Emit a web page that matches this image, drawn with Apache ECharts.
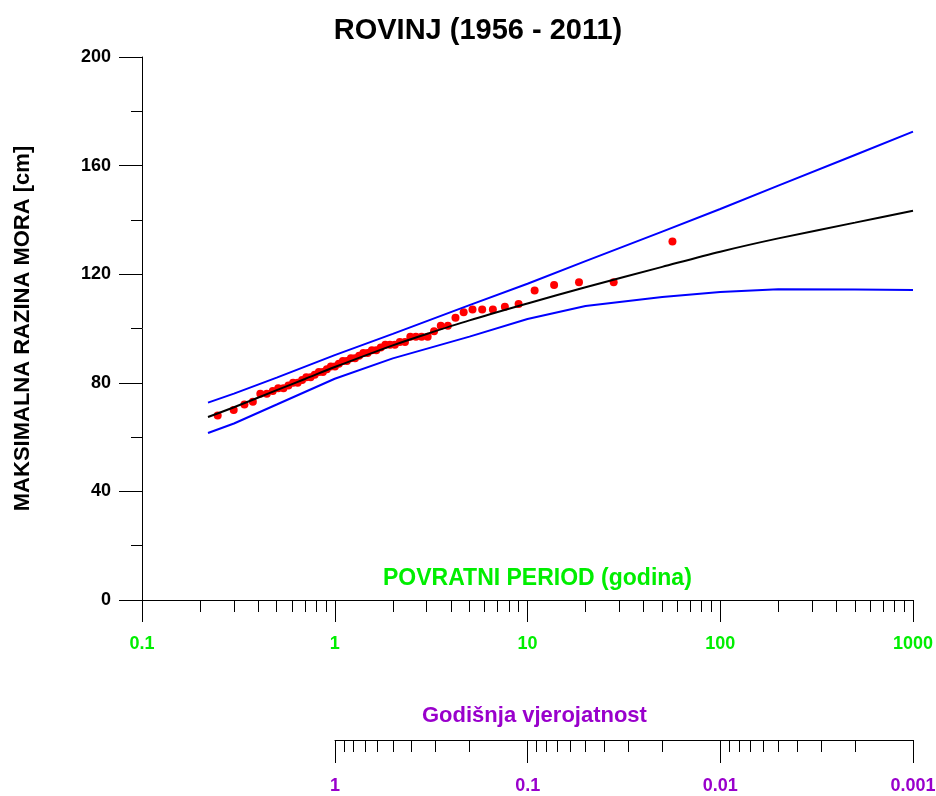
<!DOCTYPE html>
<html><head><meta charset="utf-8">
<script src="https://cdn.jsdelivr.net/npm/echarts@6/dist/echarts.min.js"></script>
<style>html,body{margin:0;padding:0;background:#fff}#c{width:936px;height:796px}</style>
</head><body><div id="c"></div>
<script>
const chartTitle = 'ROVINJ (1956 - 2011)';
const yAxisName = 'MAKSIMALNA RAZINA MORA [cm]';
const periodName = 'POVRATNI PERIOD (godina)';
const probName = 'Godišnja vjerojatnost';

const periodMajor = [0.1, 1, 10, 100, 1000];
const periodMinor = [0.2,0.3,0.4,0.5,0.6,0.7,0.8,0.9, 2,3,4,5,6,7,8,9, 20,30,40,50,60,70,80,90, 200,300,400,500,600,700,800,900];
const probMajor = [1, 0.1, 0.01, 0.001];
const probMinor = [0.9,0.8,0.7,0.6,0.5,0.4,0.3,0.2, 0.09,0.08,0.07,0.06,0.05,0.04,0.03,0.02, 0.009,0.008,0.007,0.006,0.005,0.004,0.003,0.002];

// observed annual maxima (return period, level cm)
const obsPeriod = [0.247,0.299,0.340,0.376,0.411,0.444,0.477,0.509,0.542,0.575,0.608,0.642,0.677,0.712,0.749,0.787,0.827,0.868,0.910,0.955,1.002,1.050,1.102,1.156,1.213,1.274,1.338,1.407,1.480,1.558,1.642,1.732,1.830,1.935,2.050,2.176,2.314,2.466,2.635,2.824,3.035,3.275,3.548,3.863,4.230,4.664,5.184,5.819,6.612,7.632,8.991,10.89,13.74,18.50,28.00,56.50];
const obsLevel = [68,70,72,73,76,76,77,78,78,79,80,80,81,82,82,83,84,84,85,86,86,87,88,88,89,89,90,91,91,92,92,93,94,94,94,95,95,97,97,97,97,99,101,101,104,106,107,107,107,108,109,114,116,117,117,132];

// fitted distribution and confidence limits
const fitPeriod = [0.22,0.3,0.5,0.7,1,2,3,5,10,20,50,100,200,500,1000];
const fitLevel = [67.4,71.0,77.3,81.4,85.8,93.8,98.0,103.0,109.2,115.2,122.7,128.3,133.2,139.0,143.4];
const upperPeriod = [0.22,0.3,0.5,1,2,5,10,20,50,100,200,500,1000];
const upperLevel = [72.7,76.0,81.9,90.2,98.0,108.6,116.5,124.8,135.7,144.0,152.6,163.9,172.5];
const lowerPeriod = [0.22,0.3,0.5,1,2,5,10,20,50,100,200,500,1000];
const lowerLevel = [61.5,65.0,72.0,81.5,89.0,97.0,103.5,108.3,111.6,113.4,114.5,114.4,114.2];

const pair = (xs, ys) => xs.map((x, i) => [x, ys[i]]);
const fmt = v => String(+(+v).toPrecision(6));
const FONT = "'Liberation Sans', Arial, sans-serif";
const GREEN = '#00ee00', PURPLE = '#9900cc';

const chart = echarts.init(document.getElementById('c'), null, {renderer: 'canvas'});
chart.setOption({
  animation: false,
  backgroundColor: '#fff',
  title: {
    text: chartTitle, left: 473, top: 11, textAlign: 'center',
    textStyle: {fontFamily: FONT, fontSize: 29, fontWeight: 'bold', color: '#000'}
  },
  graphic: [
    {type: 'text', left: 383, top: 567, style: {text: periodName, fill: GREEN, font: "bold 23px 'Liberation Sans', Arial, sans-serif"}},
    {type: 'text', left: 422, top: 705, style: {text: probName, fill: PURPLE, font: "bold 22px 'Liberation Sans', Arial, sans-serif"}}
  ],
  grid: [
    {left: 142, right: 23, top: 57, height: 543, outerBoundsMode: 'none', containLabel: false},
    {left: 335, right: 23, top: 739, height: 1, outerBoundsMode: 'none', containLabel: false}
  ],
  xAxis: [
    {type: 'log', logBase: 10, gridIndex: 0, min: 0.1, max: 1000, position: 'bottom',
     axisLine: {show: true, lineStyle: {color: '#000', width: 1}},
     axisTick: {show: true, length: 22, customValues: periodMajor, lineStyle: {color: '#000', width: 1}},
     axisLabel: {customValues: periodMajor, formatter: fmt, color: GREEN, fontFamily: FONT, fontWeight: 'bold', fontSize: 18, margin: 35},
     splitLine: {show: false}, minorTick: {show: false}},
    {type: 'log', logBase: 10, gridIndex: 0, min: 0.1, max: 1000, position: 'bottom', offset: 0,
     axisLine: {show: false},
     axisTick: {show: true, length: 12, customValues: periodMinor, lineStyle: {color: '#000', width: 1}},
     axisLabel: {show: false}, splitLine: {show: false}},
    {type: 'log', logBase: 10, gridIndex: 1, min: 0.001, max: 1, inverse: true, position: 'bottom',
     axisLine: {show: true, lineStyle: {color: '#000', width: 1}},
     axisTick: {show: true, length: 23, customValues: probMajor, lineStyle: {color: '#000', width: 1}},
     axisLabel: {customValues: probMajor, formatter: fmt, color: PURPLE, fontFamily: FONT, fontWeight: 'bold', fontSize: 18, margin: 37},
     splitLine: {show: false}},
    {type: 'log', logBase: 10, gridIndex: 1, min: 0.001, max: 1, inverse: true, position: 'bottom', offset: 0,
     axisLine: {show: false},
     axisTick: {show: true, length: 12, customValues: probMinor, lineStyle: {color: '#000', width: 1}},
     axisLabel: {show: false}, splitLine: {show: false}}
  ],
  yAxis: [
    {type: 'value', gridIndex: 0, min: 0, max: 200, interval: 40,
     axisLine: {show: true, lineStyle: {color: '#000', width: 1}},
     axisTick: {show: true, length: 23, lineStyle: {color: '#000', width: 1}},
     minorTick: {show: true, splitNumber: 2, length: 11, lineStyle: {color: '#000', width: 1}},
     axisLabel: {color: '#000', fontFamily: FONT, fontWeight: 'bold', fontSize: 18, margin: 31},
     splitLine: {show: false}, minorSplitLine: {show: false},
     name: yAxisName, nameLocation: 'middle', nameGap: 108, nameRotate: 90,
     nameTextStyle: {color: '#000', fontFamily: FONT, fontWeight: 'bold', fontSize: 22}},
    {type: 'value', gridIndex: 1, show: false, min: 0, max: 1}
  ],
  series: [
    {type: 'scatter', xAxisIndex: 0, yAxisIndex: 0, data: pair(obsPeriod, obsLevel), symbolSize: 8,
     itemStyle: {color: '#ff0000', opacity: 1}, z: 2},
    {type: 'line', xAxisIndex: 0, yAxisIndex: 0, data: pair(upperPeriod, upperLevel), showSymbol: false,
     lineStyle: {color: '#0000ff', width: 2}, z: 3},
    {type: 'line', xAxisIndex: 0, yAxisIndex: 0, data: pair(lowerPeriod, lowerLevel), showSymbol: false,
     lineStyle: {color: '#0000ff', width: 2}, z: 3},
    {type: 'line', xAxisIndex: 0, yAxisIndex: 0, data: pair(fitPeriod, fitLevel), showSymbol: false, smooth: 0.3,
     lineStyle: {color: '#000', width: 2}, z: 4}
  ]
});
</script></body></html>
